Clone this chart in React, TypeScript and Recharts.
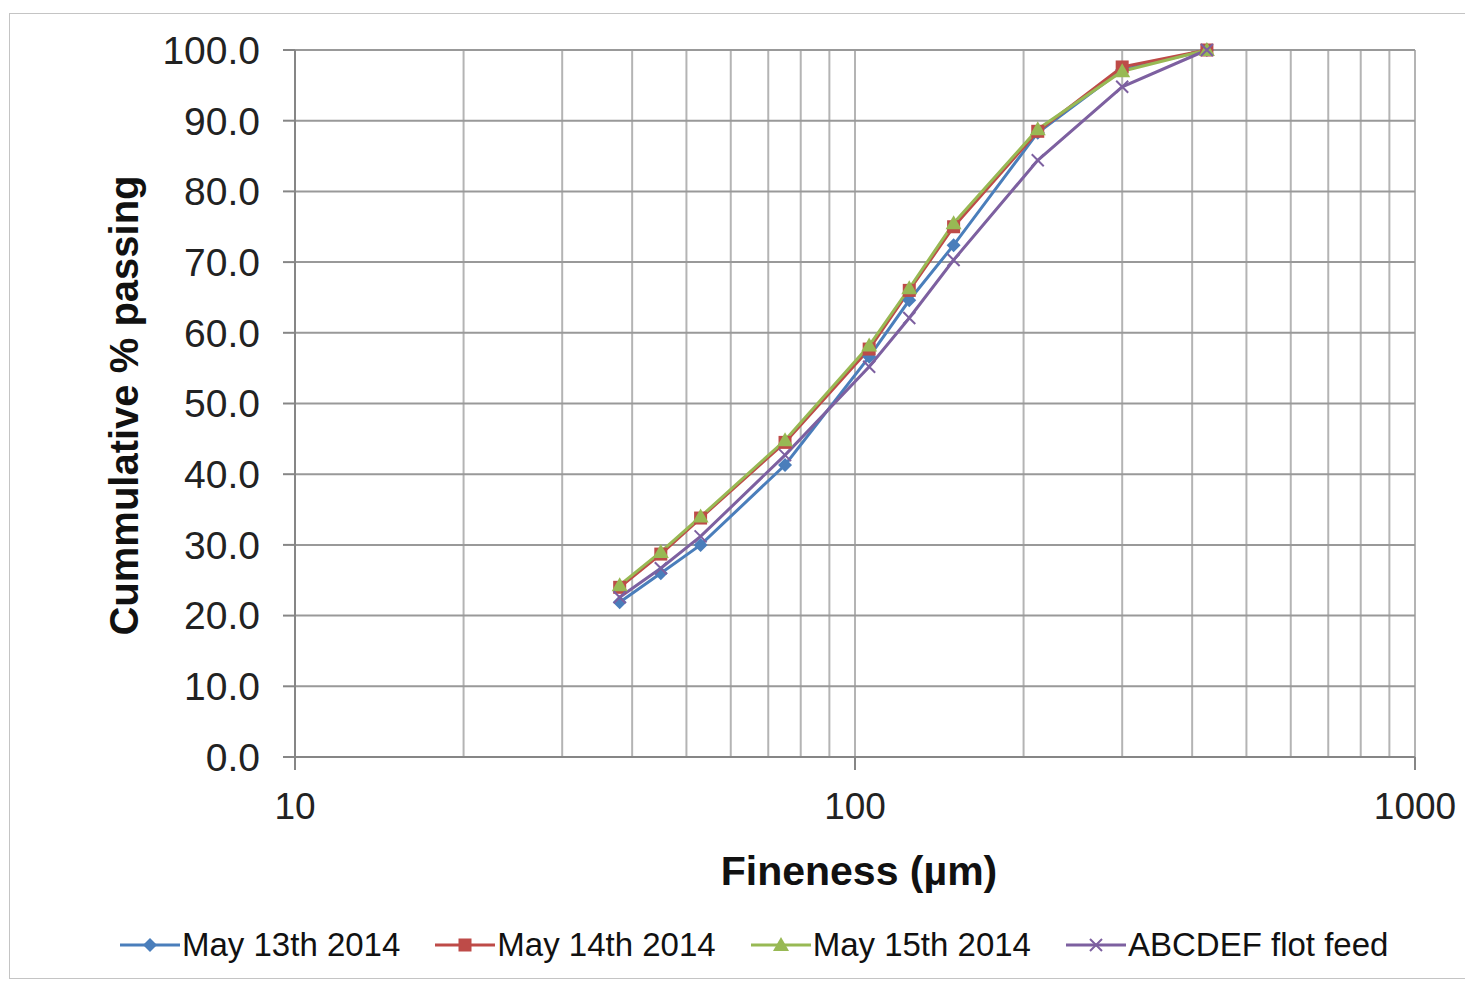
import React from 'react';
import { LineChart, Line, XAxis, YAxis, CartesianGrid, Legend } from 'recharts';

// sieve sizes (µm) and cumulative % passing per sample
const sizes = [38, 45, 53, 75, 106, 125, 150, 212, 300, 425];
const may13 = [21.9, 26.0, 30.0, 41.3, 56.6, 64.6, 72.4, 88.3, 97.2, 100.0];
const may14 = [24.0, 28.7, 33.8, 44.5, 57.7, 66.0, 75.0, 88.5, 97.6, 100.0];
const may15 = [24.3, 29.0, 34.0, 44.8, 58.2, 66.3, 75.5, 88.8, 97.0, 100.0];
const flotFeed = [22.6, 26.7, 31.2, 42.7, 55.2, 62.1, 70.3, 84.4, 94.8, 100.0];

const xTicks = [10, 20, 30, 40, 50, 60, 70, 80, 90, 100, 200, 300, 400, 500, 600, 700, 800, 900, 1000];
const majorX = [10, 100, 1000];
const yTicks = [0, 10, 20, 30, 40, 50, 60, 70, 80, 90, 100];

const data = sizes.map((s, i) => ({
  size: s,
  may13: may13[i],
  may14: may14[i],
  may15: may15[i],
  flot: flotFeed[i],
}));

const FONT = '"Liberation Sans", Arial, sans-serif';
const AXIS = '#868686';

const series = [
  { key: 'may13', name: 'May 13th 2014', color: '#4a7ebb', marker: 'diamond' },
  { key: 'may14', name: 'May 14th 2014', color: '#be4b48', marker: 'square' },
  { key: 'may15', name: 'May 15th 2014', color: '#98b954', marker: 'triangle' },
  { key: 'flot', name: 'ABCDEF flot feed', color: '#7d60a0', marker: 'x' },
];

function Marker({ cx, cy, type, color }: any) {
  if (cx == null || cy == null) return null;
  if (type === 'diamond') {
    const r = 7;
    return <path d={`M${cx},${cy - r}L${cx + r},${cy}L${cx},${cy + r}L${cx - r},${cy}Z`} fill={color} />;
  }
  if (type === 'square') {
    const r = 6.5;
    return <rect x={cx - r} y={cy - r} width={r * 2} height={r * 2} fill={color} />;
  }
  if (type === 'triangle') {
    const r = 8;
    return <path d={`M${cx},${cy - r}L${cx + r},${cy + r * 0.75}L${cx - r},${cy + r * 0.75}Z`} fill={color} />;
  }
  const r = 6;
  return (
    <path d={`M${cx - r},${cy - r}L${cx + r},${cy + r}M${cx - r},${cy + r}L${cx + r},${cy - r}`} stroke={color} strokeWidth={2} />
  );
}

const XTick = (props: any) => {
  const { x, y, payload } = props;
  if (!majorX.includes(payload.value)) return null;
  return (
    <g>
      <line x1={x} x2={x} y1={y} y2={y + 13} stroke={AXIS} strokeWidth={2} />
      <text x={x} y={y + 62} textAnchor="middle" fontSize={37} fontFamily={FONT} fill="#222">
        {payload.value}
      </text>
    </g>
  );
};

const LegendContent = () => (
  <div style={{ height: 50, display: 'flex', alignItems: 'center', paddingLeft: 110, gap: 35, fontFamily: FONT, fontSize: 33, color: '#111' }}>
    {series.map((s) => (
      <div key={s.key} style={{ display: 'flex', alignItems: 'center' }}>
        <svg width={60} height={20} style={{ marginRight: 2 }}>
          <line x1={0} x2={60} y1={10} y2={10} stroke={s.color} strokeWidth={3} />
          <Marker cx={30} cy={10} type={s.marker} color={s.color} />
        </svg>
        <span>{s.name}</span>
      </div>
    ))}
  </div>
);

export default function App() {
  return (
    <div style={{ marginLeft: 1, marginTop: 5, width: 1462, height: 966, border: '1px solid #c4c4c4', boxSizing: 'border-box', background: '#fff' }}>
      <LineChart width={1460} height={964} data={data} margin={{ top: 36, right: 55, bottom: 8, left: 0 }}>
        <CartesianGrid horizontal={false} stroke="#b4b4b4" strokeWidth={2} />
        <CartesianGrid vertical={false} stroke="#999999" strokeWidth={2} />
        <XAxis
          dataKey="size"
          type="number"
          scale="log"
          domain={[10, 1000]}
          ticks={xTicks}
          allowDataOverflow
          interval={0}
          height={163}
          tickLine={false}
          tickSize={0}
          tickMargin={0}
          tick={<XTick />}
          stroke={AXIS}
          strokeWidth={2}
          label={{
            content: (p: any) => {
              const vb = p.viewBox;
              return (
                <text x={vb.x + vb.width / 2 + 4} y={vb.y + 128} textAnchor="middle" fontSize={41} fontWeight="bold" fontFamily={FONT} fill="#111">
                  Fineness (µm)
                </text>
              );
            },
          }}
        />
        <YAxis
          type="number"
          domain={[0, 100]}
          ticks={yTicks}
          interval={0}
          width={285}
          tickFormatter={(v: number) => v.toFixed(1)}
          tickSize={12}
          tickMargin={23}
          tick={{ fontSize: 39, fontFamily: FONT, fill: '#222' }}
          stroke={AXIS}
          strokeWidth={2}
          label={{
            content: (p: any) => {
              const vb = p.viewBox;
              const cx = vb.x + 114;
              const cy = vb.y + vb.height / 2 + 2;
              return (
                <text x={cx} y={cy} transform={`rotate(-90, ${cx}, ${cy})`} textAnchor="middle" dominantBaseline="central" fontSize={40} fontWeight="bold" fontFamily={FONT} fill="#111">
                  Cummulative % passing
                </text>
              );
            },
          }}
        />
        <Legend verticalAlign="bottom" height={50} content={<LegendContent />} />
        {series.map((s) => (
          <Line
            key={s.key}
            dataKey={s.key}
            name={s.name}
            type="linear"
            stroke={s.color}
            strokeWidth={3}
            isAnimationActive={false}
            dot={(p: any) => <Marker key={`${s.key}-${p.index}`} cx={p.cx} cy={p.cy} type={s.marker} color={s.color} />}
          />
        ))}
      </LineChart>
    </div>
  );
}
